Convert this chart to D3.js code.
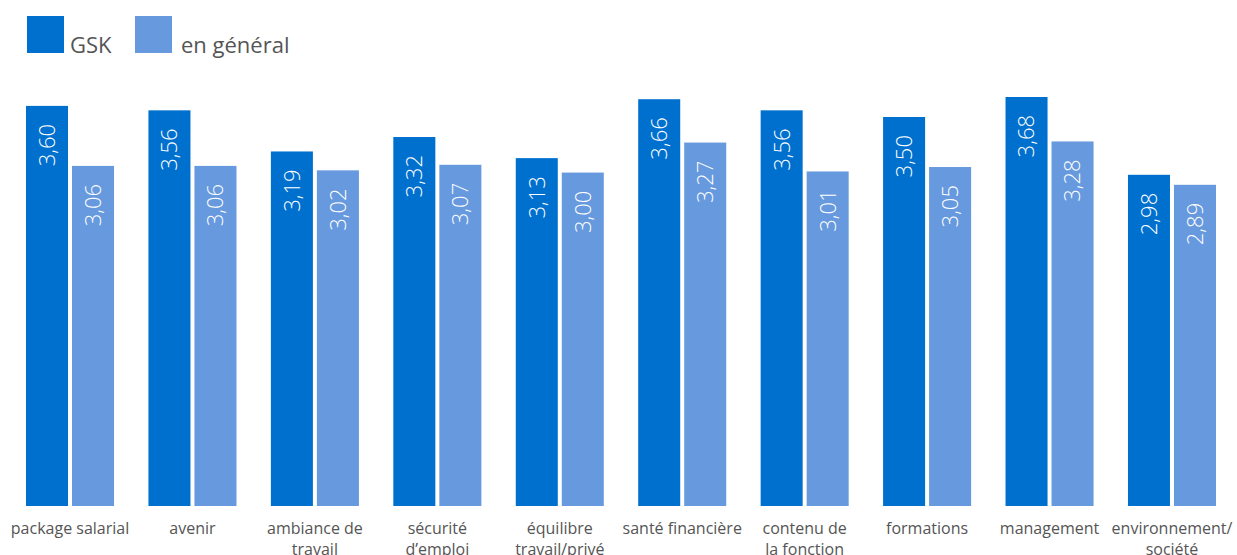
<!DOCTYPE html>
<html>
<head>
<meta charset="utf-8">
<script src="https://cdn.jsdelivr.net/npm/d3@7"></script>
<style>
  body { margin: 0; background: #fff; }
  text { font-family: 'Open Sans', sans-serif; }
</style>
</head>
<body>
<script>
const WIDTH = 1237
const HEIGHT = 555

const CATEGORIES = [
  'package salarial', 'avenir', 'ambiance de\ntravail', 'sécurité\nd’emploi',
  'équilibre\ntravail/privé', 'santé financière', 'contenu de\nla fonction',
  'formations', 'management', 'environnement/\nsociété'
]
const SERIES = ['GSK', 'en général']
const GSK = [3.60, 3.56, 3.19, 3.32, 3.13, 3.66, 3.56, 3.50, 3.68, 2.98]
const GENERAL = [3.06, 3.06, 3.02, 3.07, 3.00, 3.27, 3.01, 3.05, 3.28, 2.89]

const COLORS = ['#0070cf', '#6699dd']
const BASELINE = 506

const svg = d3.select('body')
  .append('svg')
  .attr('width', WIDTH)
  .attr('height', HEIGHT)

const x = d3.scaleBand()
  .domain(CATEGORIES)
  .range([26, 1216])
  .paddingInner(0.281)

const xSub = d3.scaleBand()
  .domain(SERIES)
  .range([0, x.bandwidth()])
  .paddingInner(4 / 46)

const y = d3.scaleLinear()
  .domain([0, 3.68])
  .range([BASELINE, 97])

const rows = CATEGORIES.map((c, i) => ({
  cat: c,
  vals: [
    { s: SERIES[0], v: GSK[i], c: COLORS[0] },
    { s: SERIES[1], v: GENERAL[i], c: COLORS[1] }
  ]
}))

const groups = svg.selectAll('g.grp')
  .data(rows)
  .enter()
  .append('g')
  .attr('class', 'grp')
  .attr('transform', d => `translate(${x(d.cat)},0)`)

const bars = groups.selectAll('g.bar')
  .data(d => d.vals)
  .enter()
  .append('g')
  .attr('class', 'bar')

bars.append('rect')
  .attr('x', d => xSub(d.s))
  .attr('y', d => y(d.v))
  .attr('width', xSub.bandwidth())
  .attr('height', d => BASELINE - y(d.v))
  .attr('fill', d => d.c)

// valeurs verticales dans les barres
bars.append('text')
  .attr('transform', d => `translate(${xSub(d.s) + xSub.bandwidth() / 2},${y(d.v) + 18}) rotate(-90)`)
  .attr('text-anchor', 'end')
  .attr('dy', '0.36em')
  .attr('fill', '#fff')
  .attr('font-size', 22)
  .attr('font-weight', 300)
  .text(d => d.v.toFixed(2).replace('.', ','))

// libellés des catégories
const labels = groups.append('text')
  .attr('x', x.bandwidth() / 2)
  .attr('y', 534)
  .attr('text-anchor', 'middle')
  .attr('font-size', 16)
  .attr('fill', '#555')

labels.selectAll('tspan')
  .data(d => d.cat.split('\n'))
  .enter()
  .append('tspan')
  .attr('x', x.bandwidth() / 2)
  .attr('dy', (d, i) => i === 0 ? 0 : 21)
  .text(d => d)

// légende
const legend = svg.append('g')
const LEG_X = [27, 135]

legend.selectAll('rect')
  .data(SERIES)
  .enter()
  .append('rect')
  .attr('x', (d, i) => LEG_X[i])
  .attr('y', 16)
  .attr('width', 37)
  .attr('height', 37)
  .attr('fill', (d, i) => COLORS[i])

legend.selectAll('text')
  .data(SERIES)
  .enter()
  .append('text')
  .attr('x', (d, i) => LEG_X[i] + 43 + i * 3)
  .attr('y', 53)
  .attr('font-size', 22)
  .attr('fill', '#555')
  .text(d => d)
</script>
</body>
</html>
